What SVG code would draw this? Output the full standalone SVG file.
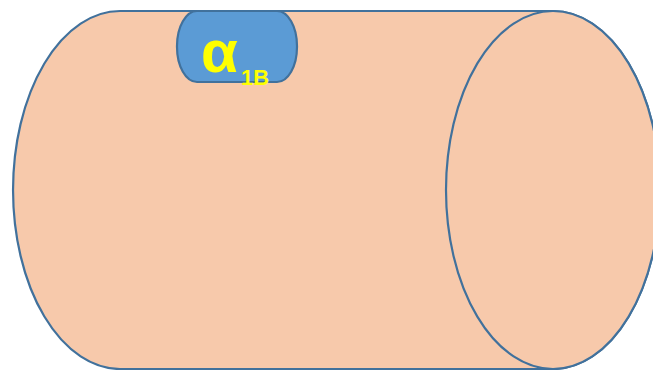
<svg xmlns="http://www.w3.org/2000/svg" width="653" height="370" viewBox="0 0 653 370">
<style>
.shape{stroke:#41719C;stroke-width:2.2}
.lbl{font-family:"Liberation Sans",Arial,sans-serif;font-weight:bold;fill:#FFFF00}
</style>
<g id="cylinder">
<path class="shape" fill="#F7C9AB" d="M120,11 L553,11 A107,179 0 0 1 553,369 L120,369 A107,179 0 0 1 120,11 Z"/>
<ellipse class="shape" fill="#F7C9AB" cx="553" cy="190" rx="107" ry="179"/>
</g>
<g id="alpha1B">
<rect class="shape" fill="#5B9BD5" x="177" y="11" width="120" height="71" rx="20" ry="35"/>
<text class="lbl" x="201" y="72" font-size="60">α</text>
<text class="lbl" x="241" y="85" font-size="22">1B</text>
</g>
</svg>
